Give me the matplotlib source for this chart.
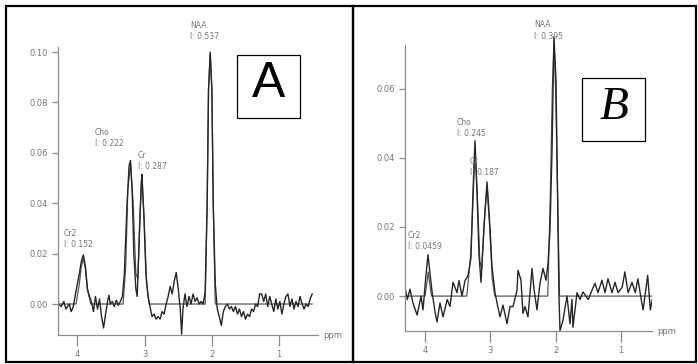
import numpy as np
import matplotlib.pyplot as plt
from matplotlib.patches import Rectangle

W, H = 698, 364

# ---- panel A: measured spectrum (ppm, intensity)
ppm_a = [4.287, 4.28, 4.24, 4.20, 4.17, 4.12, 4.09, 4.06, 4.02, 3.97,
         3.94, 3.91, 3.88, 3.85, 3.82, 3.79, 3.76, 3.73, 3.70, 3.67,
         3.64, 3.61, 3.58, 3.55, 3.53, 3.51, 3.48, 3.45, 3.42, 3.39,
         3.36, 3.33, 3.30, 3.29, 3.26, 3.23, 3.21, 3.185, 3.16, 3.13,
         3.11, 3.08, 3.05, 3.04, 3.01, 2.98, 2.95, 2.92, 2.89, 2.86,
         2.83, 2.80, 2.77, 2.74, 2.71, 2.68, 2.65, 2.62, 2.59, 2.56,
         2.53, 2.50, 2.47, 2.45, 2.43, 2.40, 2.37, 2.34, 2.31, 2.28,
         2.25, 2.22, 2.19, 2.16, 2.13, 2.10, 2.07, 2.05, 2.025, 2.00,
         1.98, 1.95, 1.92, 1.89, 1.86, 1.83, 1.80, 1.77, 1.74, 1.71,
         1.68, 1.65, 1.62, 1.59, 1.56, 1.53, 1.50, 1.47, 1.44, 1.41,
         1.38, 1.35, 1.32, 1.29, 1.26, 1.23, 1.20, 1.17, 1.14, 1.11,
         1.08, 1.05, 1.02, 0.99, 0.96, 0.93, 0.90, 0.87, 0.84, 0.81,
         0.78, 0.75, 0.72, 0.69, 0.66, 0.63, 0.60, 0.57, 0.54, 0.51]
sig_a = [0.009, 0.0, -0.001, 0.001, -0.002, 0.0, -0.003, -0.001, 0.005, 0.012,
         0.017, 0.0195, 0.015, 0.006, 0.003, 0.001, -0.003, 0.003, -0.002, 0.002,
         -0.005, -0.0095, -0.004, 0.001, 0.0035, 0.0, 0.001, -0.001, 0.0015, -0.0005,
         0.001, 0.003, 0.012, 0.02, 0.04, 0.055, 0.057, 0.045, 0.02, 0.006,
         0.003, 0.025, 0.048, 0.0515, 0.035, 0.012, 0.003, -0.001, -0.005, -0.004,
         -0.006, -0.005, -0.006, -0.003, -0.004, 0.0, 0.003, 0.007, 0.004, 0.009,
         0.0125, 0.006, -0.002, -0.012, -0.002, 0.004, -0.001, 0.003, 0.0, 0.004,
         0.001, 0.0025, 0.0, 0.001, 0.0, 0.005, 0.04, 0.085, 0.10, 0.085,
         0.04, 0.008, -0.002, -0.005, -0.0085, -0.003, -0.001, 0.0, -0.002, -0.001,
         -0.003, -0.001, -0.004, -0.002, -0.005, -0.003, -0.006, -0.004, -0.005, -0.002,
         -0.003, 0.0, -0.001, 0.004, 0.004, 0.001, 0.004, -0.001, 0.003, 0.0,
         -0.003, 0.002, -0.002, 0.001, -0.004, 0.0, 0.003, 0.004, -0.001, 0.002,
         -0.002, 0.001, -0.001, 0.003, 0.0, -0.002, 0.0, -0.001, 0.002, 0.004]

# panel A: fitted model
fit_ppm_a = [4.287, 4.02, 3.97, 3.94, 3.91, 3.88, 3.85, 3.80, 3.32, 3.28,
             3.25, 3.21, 3.17, 3.13, 3.10, 3.07, 3.04, 3.01, 2.97, 2.93,
             2.10, 2.07, 2.05, 2.025, 2.00, 1.98, 1.95, 0.51]
fit_a = [0.0, 0.0, 0.008, 0.015, 0.018, 0.014, 0.006, 0.0, 0.0, 0.015,
         0.045, 0.056, 0.04, 0.012, 0.01, 0.035, 0.05, 0.035, 0.008, 0.0,
         0.0, 0.04, 0.085, 0.099, 0.085, 0.04, 0.0, 0.0]

# ---- panel B: measured spectrum
ppm_b = [4.306, 4.27, 4.23, 4.184, 4.12, 4.06, 4.03, 3.99, 3.954, 3.92,
         3.89, 3.847, 3.816, 3.77, 3.724, 3.66, 3.617, 3.571, 3.51, 3.479,
         3.433, 3.387, 3.34, 3.296, 3.265, 3.234, 3.204, 3.173, 3.142, 3.097,
         3.05, 3.005, 2.974, 2.928, 2.897, 2.851, 2.806, 2.744, 2.698, 2.652,
         2.591, 2.576, 2.53, 2.50, 2.469, 2.423, 2.361, 2.331, 2.285, 2.239,
         2.193, 2.147, 2.116, 2.086, 2.055, 2.025, 1.994, 1.979, 1.963, 1.948,
         1.933, 1.887, 1.825, 1.78, 1.749, 1.734, 1.672, 1.626, 1.58, 1.50,
         1.443, 1.397, 1.351, 1.29, 1.244, 1.198, 1.136, 1.09, 1.044, 0.98,
         0.94, 0.89, 0.83, 0.78, 0.74, 0.68, 0.66, 0.59, 0.55, 0.52]
sig_b = [0.0026, -0.001, 0.002, -0.002, -0.0055, 0.0, -0.004, 0.005, 0.012, 0.006,
         0.001, -0.0045, -0.0075, -0.002, -0.006, -0.001, -0.003, 0.004, 0.001, 0.0045,
         0.0, 0.0045, 0.006, 0.011, 0.03, 0.045, 0.03, 0.012, 0.004, 0.02,
         0.033, 0.02, 0.0085, 0.001, -0.002, -0.006, -0.0026, -0.008, -0.003, -0.003,
         0.0017, 0.0075, 0.0046, -0.005, -0.003, -0.006, 0.008, 0.002, -0.004, 0.0037,
         0.008, 0.0046, 0.0095, 0.019, 0.042, 0.075, 0.0626, 0.042, 0.019, 0.0,
         -0.01, -0.007, 0.0, -0.008, -0.001, -0.009, 0.001, -0.001, 0.0012, -0.001,
         0.0017, 0.0037, 0.001, 0.0046, 0.001, 0.005, 0.001, 0.004, 0.001, 0.0026,
         0.007, 0.001, 0.004, 0.001, 0.005, -0.002, -0.004, 0.006, -0.004, -0.001]

fit_ppm_b = [4.306, 4.00, 3.97, 3.95, 3.93, 3.90, 3.36, 3.30, 3.26, 3.234,
             3.20, 3.16, 3.13, 3.09, 3.05, 3.01, 2.97, 2.93, 2.12, 2.08,
             2.05, 2.025, 2.00, 1.97, 1.94, 0.52]
fit_b = [0.0, 0.0, 0.004, 0.007, 0.004, 0.0, 0.0, 0.012, 0.03, 0.043,
         0.03, 0.01, 0.008, 0.022, 0.032, 0.02, 0.005, 0.0, 0.0, 0.03,
         0.06, 0.074, 0.06, 0.03, 0.0, 0.0]

# metabolite labels: (name, integral, ppm, intensity of label centre)
labels_a = [("NAA", "0.537", 2.325, 0.1083), ("Cho", "0.222", 3.737, 0.0659),
            ("Cr", "0.287", 3.098, 0.0567), ("Cr2", "0.152", 4.198, 0.0258)]
labels_b = [("NAA", "0.395", 2.33, 0.0768), ("Cho", "0.245", 3.51, 0.0487),
            ("Cr", "0.187", 3.31, 0.0374), ("Cr2", "0.0459", 4.26, 0.0159)]

yticks_a = [0.0, 0.02, 0.04, 0.06, 0.08, 0.10]
yticks_b = [0.0, 0.02, 0.04, 0.06]
xticks = [4, 3, 2, 1]

grey = "#777777"
axgrey = "#8c8c8c"


def fx(px):
    return px / W


def fy(py):
    return 1 - py / H


fig = plt.figure(figsize=(W / 100, H / 100), dpi=100)

# outer panel frames
for x0, x1 in [(6, 353), (353, 696)]:
    fig.patches.append(Rectangle((fx(x0), fy(362)), fx(x1 - x0), (362 - 6) / H,
                                 transform=fig.transFigure, fill=False,
                                 edgecolor="black", linewidth=1.6))


def draw_panel(rect, xlim, ylim, ybound, ppm, sig, fppm, fit, yticks, labels):
    ax = fig.add_axes(rect)
    ax.plot(fppm, fit, color="#555555", linewidth=0.9)
    ax.plot(ppm, sig, color="#262626", linewidth=1.0)
    ax.set_xlim(*xlim)
    ax.set_ylim(*ylim)
    ax.spines["top"].set_visible(False)
    ax.spines["right"].set_visible(False)
    for s in ("left", "bottom"):
        ax.spines[s].set_color(axgrey)
        ax.spines[s].set_linewidth(0.9)
    ax.spines["left"].set_bounds(*ybound)
    ax.set_yticks(yticks)
    ax.set_yticklabels([f"{t:.2f}" for t in yticks])
    ax.set_xticks(xticks)
    ax.set_xticklabels([str(t) for t in xticks])
    ax.tick_params(axis="both", colors=axgrey, labelcolor=grey, labelsize=6,
                   width=0.9)
    ax.tick_params(axis="y", length=4, pad=3)
    ax.tick_params(axis="x", length=8, pad=3)
    ax.patch.set_alpha(0)
    for name, val, px, py in labels:
        ax.text(px, py, f"{name}\nI: {val}", ha="left", va="center",
                fontsize=5.5, color=grey, linespacing=1.35)
    ax.text(1.02, 0.0, "ppm", transform=ax.transAxes, ha="left", va="center",
            fontsize=6, color=grey)
    return ax


# panel A axes: pixel box left 58, right 318, top 40, bottom 335
draw_panel([fx(58), fy(335), fx(318 - 58), (335 - 40) / H],
           (4.287, 0.423), (-0.0123, 0.1048), (-0.0123, 0.102),
           ppm_a, sig_a, fit_ppm_a, fit_a, yticks_a, labels_a)

# panel B axes: pixel box left 405, right 652, top 30, bottom 331
draw_panel([fx(405), fy(331), fx(652 - 405), (331 - 30) / H],
           (4.306, 0.524), (-0.0101, 0.077), (-0.0101, 0.0728),
           ppm_b, sig_b, fit_ppm_b, fit_b, yticks_b, labels_b)

# letter boxes
fig.patches.append(Rectangle((fx(237), fy(118)), fx(63), 63 / H,
                             transform=fig.transFigure, fill=False,
                             edgecolor="black", linewidth=0.9))
fig.text(fx(268.5), fy(84), "A", ha="center", va="center", fontsize=36,
         family="Liberation Sans")
fig.patches.append(Rectangle((fx(582), fy(141)), fx(63), 63 / H,
                             transform=fig.transFigure, fill=False,
                             edgecolor="black", linewidth=0.9))
fig.text(fx(613.5), fy(108), "B", ha="center", va="center", fontsize=34,
         family="Liberation Serif", style="italic")

fig.savefig("out.png", dpi=100)
